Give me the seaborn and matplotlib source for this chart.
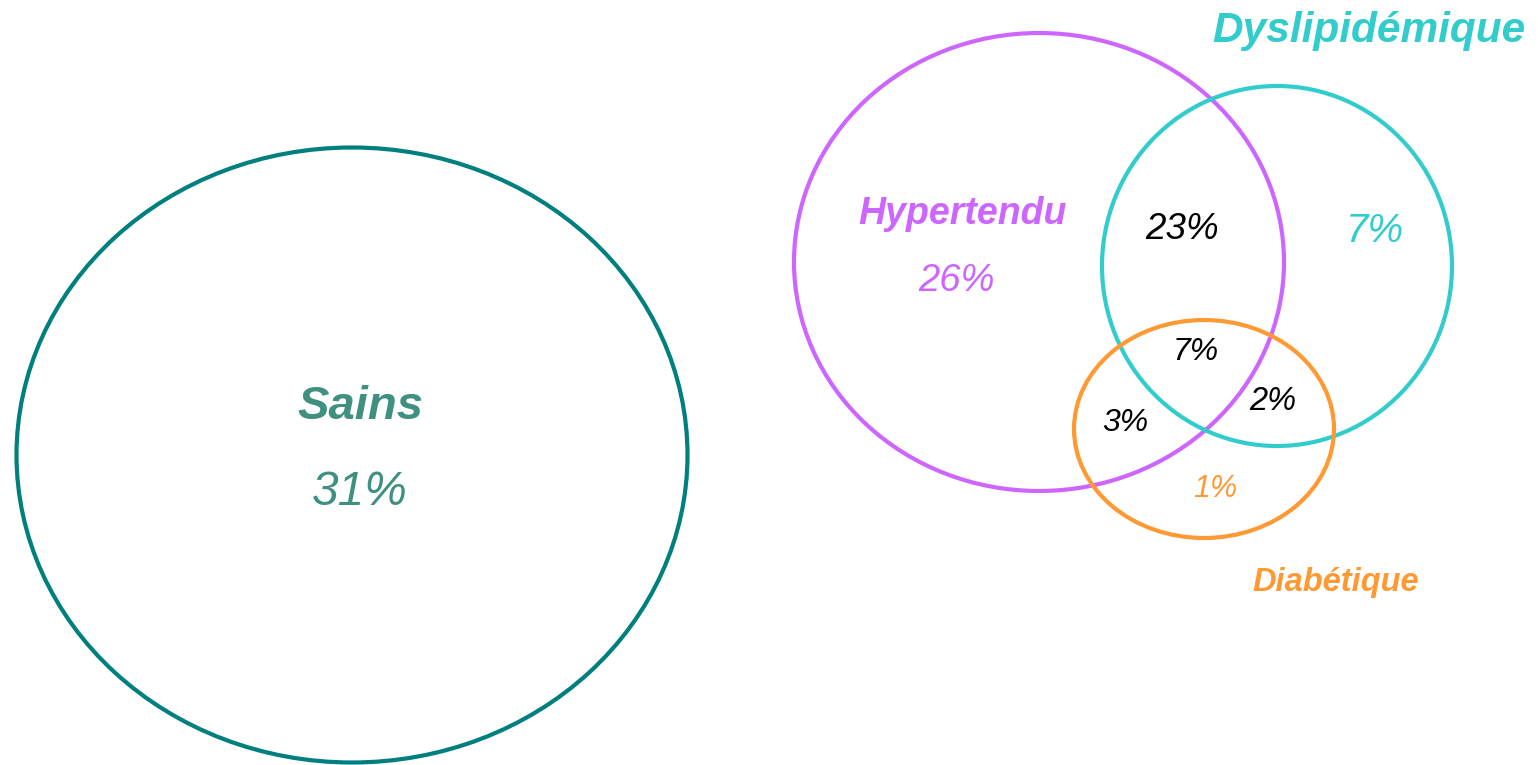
import matplotlib.pyplot as plt
from matplotlib.patches import Ellipse
import seaborn as sns

sns.set_theme(style="white")
plt.rcParams['font.family'] = ['Liberation Sans', 'DejaVu Sans']

# groups and their own (exclusive) share
groups = ['Sains', 'Hypertendu', 'Dyslipidémique', 'Diabétique']
group_pct = ['31%', '26%', '7%', '1%']
group_colors = ['#007F7F', '#CC66FF', '#33CCCC', '#FF9933']
text_colors = ['#3F9080', '#CC66FF', '#33CCCC', '#FF9933']

# overlap shares
overlaps = ['Hyp+Dys', 'Hyp+Dys+Dia', 'Hyp+Dia', 'Dys+Dia']
overlap_pct = ['23%', '7%', '3%', '2%']

# layout (pixel space): ellipse centre x, y, width, height
shapes = [(352, 455, 671, 615), (1039, 262, 490, 458),
          (1277, 266, 350, 360), (1204, 429, 260, 218)]
name_pos = [(360, 407, 34), (963, 214, 27), (1369, 31, 30.5), (1336, 583, 23.5)]
pct_pos = [(360, 492, 34.5), (956, 281, 27.5), (1375, 231, 29), (1215, 489, 22)]
overlap_pos = [(1182, 229, 26.5), (1196, 352, 23), (1125, 423, 23), (1273, 401, 23.5)]

fig = plt.figure(figsize=(15.38, 7.65), dpi=100)
ax = fig.add_axes([0, 0, 1, 1])
ax.set_xlim(0, 1538)
ax.set_ylim(765, 0)
ax.axis('off')

for (cx, cy, w, h), col in zip(shapes, group_colors):
    ax.add_patch(Ellipse((cx, cy), w, h, fill=False, edgecolor=col, linewidth=3))

for name, pct, col, (nx, ny, ns), (px, py, ps) in zip(groups, group_pct, text_colors, name_pos, pct_pos):
    ax.text(nx, ny, name, color=col, fontsize=ns, fontweight='bold', fontstyle='italic',
            ha='center', va='center')
    ax.text(px, py, pct, color=col, fontsize=ps, fontstyle='italic', ha='center', va='center')

for pct, (ox, oy, os_) in zip(overlap_pct, overlap_pos):
    ax.text(ox, oy, pct, color='black', fontsize=os_, fontstyle='italic', ha='center', va='center')

plt.savefig('out.png', dpi=100)
